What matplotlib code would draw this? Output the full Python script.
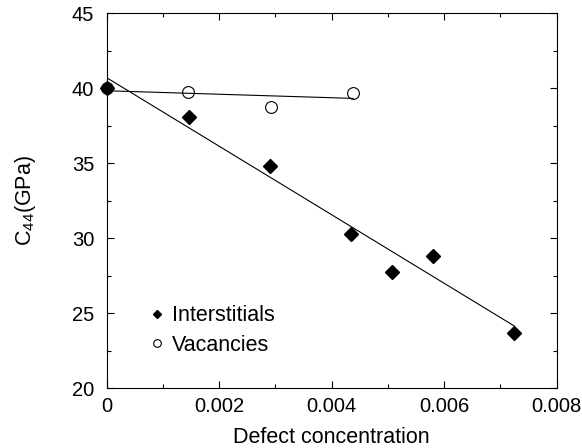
#!/usr/bin/env python3
import matplotlib

matplotlib.use("Agg")
import matplotlib.pyplot as plt
from matplotlib.ticker import MultipleLocator

# interstitial defects
inter_conc = [0.0, 0.00147, 0.0029, 0.00435, 0.00508, 0.0058, 0.00724]
inter_c44 = [40.0, 38.1, 34.8, 30.27, 27.73, 28.82, 23.71]

# vacancies
vac_conc = [0.0, 0.00145, 0.00292, 0.00438]
vac_c44 = [40.0, 39.73, 38.78, 39.67]

# straight-line fits through each set
inter_fit_x = [0.0, 0.00724]
inter_fit_y = [40.71, 24.17]
vac_fit_x = [0.0, 0.00438]
vac_fit_y = [39.84, 39.33]

plt.rcParams["font.family"] = ["Liberation Sans", "DejaVu Sans"]
plt.rcParams["font.size"] = 14.5
plt.rcParams["mathtext.fontset"] = "custom"
plt.rcParams["mathtext.rm"] = "Liberation Sans"


def main():
    fig = plt.figure(figsize=(5.82, 4.48), dpi=100)
    ax = fig.add_axes([0.1833, 0.1332, 0.7732, 0.837])

    ax.plot(inter_fit_x, inter_fit_y, color="black", linewidth=0.8)
    ax.plot(vac_fit_x, vac_fit_y, color="black", linewidth=0.8)
    ax.plot(inter_conc, inter_c44, linestyle="none", marker="D", markersize=7,
            color="black", label="Interstitials", clip_on=False)
    ax.plot(vac_conc, vac_c44, linestyle="none", marker="o", markersize=8.5,
            markerfacecolor="none", markeredgecolor="black", markeredgewidth=0.8,
            label="Vacancies", clip_on=False)

    ax.set_xlim(0, 0.008)
    ax.set_ylim(20, 45)
    ax.xaxis.set_major_locator(MultipleLocator(0.002))
    ax.xaxis.set_minor_locator(MultipleLocator(0.001))
    ax.yaxis.set_major_locator(MultipleLocator(5))
    ax.yaxis.set_minor_locator(MultipleLocator(2.5))
    ax.set_xticks([0, 0.002, 0.004, 0.006, 0.008])
    ax.set_xticklabels(["0", "0.002", "0.004", "0.006", "0.008"])
    ax.tick_params(which="both", direction="in", top=True, right=True, width=0.8)
    ax.tick_params(which="major", length=5)
    ax.tick_params(which="minor", length=3)
    ax.tick_params(axis="y", which="major", pad=9)
    ax.tick_params(axis="x", which="major", pad=6)
    for sp in ax.spines.values():
        sp.set_linewidth(0.8)

    ax.set_xlabel("Defect concentration", fontsize=15.5, labelpad=8)
    ax.set_ylabel(r"C$_{44}$(GPa)", fontsize=15.5, labelpad=24)

    ax.legend(loc="lower left", bbox_to_anchor=(0.055, 0.035), frameon=False,
              markerscale=0.65, handlelength=0.6, handletextpad=0.4,
              labelspacing=0.4, fontsize=15.5)

    fig.savefig("out.png", dpi=100)
    plt.close(fig)
    return 0


if __name__ == "__main__":
    raise SystemExit(main())
